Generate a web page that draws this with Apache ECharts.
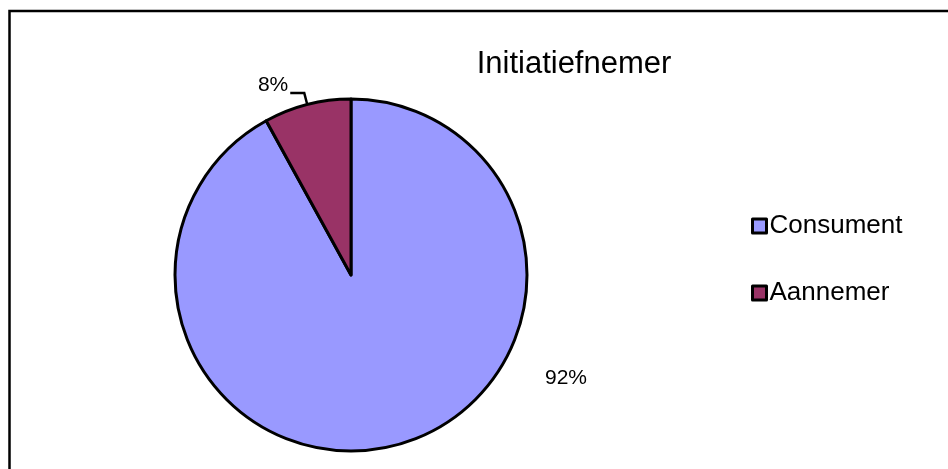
<!DOCTYPE html>
<html>
<head>
<meta charset="utf-8">
<script src="https://cdn.jsdelivr.net/npm/echarts@6/dist/echarts.min.js"></script>
<style>
  html, body { margin: 0; padding: 0; background: #fff; }
  #chart { width: 948px; height: 469px; }
</style>
</head>
<body>
<div id="chart"></div>
<script>
const categories = ['Consument', 'Aannemer']
const values = [92, 8]
const colors = ['#9999FF', '#993366']

let myChart = echarts.init(document.getElementById('chart'))
myChart.setOption({
  backgroundColor: '#ffffff',
  animation: false,
  graphic: [{
    type: 'rect',
    shape: { x: 9.5, y: 11, width: 960, height: 480 },
    style: { fill: 'none', stroke: '#000', lineWidth: 2.5 },
    silent: true
  }],
  title: {
    text: 'Initiatiefnemer',
    left: 569,
    top: 44,
    textAlign: 'center',
    textStyle: {
      fontFamily: 'Liberation Sans, Arial, sans-serif',
      fontSize: 31,
      fontWeight: 'normal',
      color: '#000'
    }
  },
  legend: {
    orient: 'vertical',
    left: 746,
    top: 208,
    itemWidth: 14,
    itemHeight: 14,
    itemGap: 41,
    icon: 'rect',
    data: categories,
    itemStyle: { borderWidth: 3, borderColor: '#000' },
    textStyle: {
      fontFamily: 'Liberation Sans, Arial, sans-serif',
      fontSize: 26,
      color: '#000',
      padding: [0, 0, 0, -2]
    }
  },
  series: [{
    name: 'Initiatiefnemer',
    type: 'pie',
    center: [351, 275],
    radius: 176,
    startAngle: 90,
    clockwise: true,
    data: categories.map((c, i) => ({
      name: c,
      value: values[i],
      itemStyle: { color: colors[i] },
      labelLine: { show: i !== 0 }
    })),
    itemStyle: {
      borderColor: '#000',
      borderWidth: 3
    },
    label: {
      show: true,
      formatter: '{d}%',
      fontFamily: 'Liberation Sans, Arial, sans-serif',
      fontSize: 21,
      color: '#000'
    },
    labelLine: {
      show: true,
      length: 12,
      length2: 14,
      lineStyle: { color: '#000', width: 2.5 }
    },
    labelLayout: function (params) {
      if (params.dataIndex === 0) {
        return { x: 566, y: 378, align: 'center', verticalAlign: 'middle' }
      }
      return { dy: -8, dx: 3 }
    }
  }]
})
</script>
</body>
</html>
